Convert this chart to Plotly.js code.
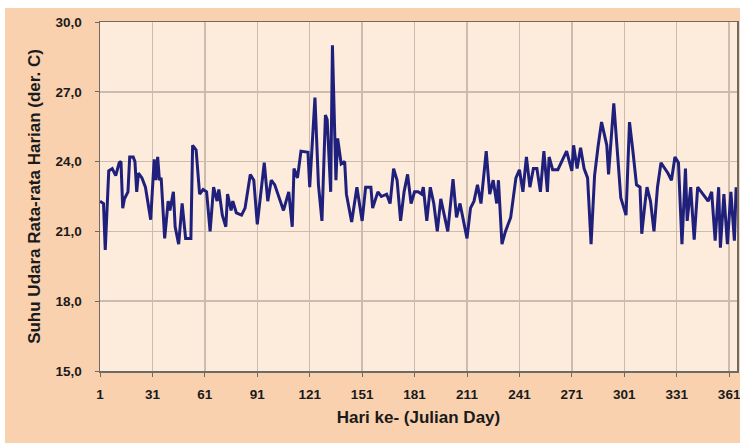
<!DOCTYPE html>
<html>
<head>
<meta charset="utf-8">
<script src="https://cdn.plot.ly/plotly-3.0.1.min.js"></script>
<style>
  html, body { margin: 0; padding: 0; background: #ffffff; }
  #chart { position: absolute; left: 5px; top: 8px; width: 735px; height: 435px; }
</style>
</head>
<body>
<div id="chart"></div>
<script>
// Julian day
var days = [1, 3, 4, 6, 8, 10, 12, 13, 14, 15, 17, 18, 20, 21, 22, 23, 25, 27, 30, 32,
  33, 34, 35, 36, 38, 40, 41, 43, 44, 46, 48, 50, 53, 54, 56, 58, 60, 62, 64, 66,
  68, 69, 71, 73, 74, 76, 77, 79, 82, 84, 87, 89, 91, 93, 95, 97, 99, 101, 104, 106,
  109, 111, 112, 114, 116, 120, 121, 124, 126, 128, 130, 131, 133, 134, 136, 137, 139, 141, 142, 145,
  148, 151, 153, 156, 157, 160, 162, 165, 167, 169, 171, 173, 175, 177, 179, 181, 183, 185, 186, 188,
  190, 192, 194, 196, 198, 200, 203, 205, 207, 209, 211, 213, 215, 217, 219, 222, 224, 226, 228, 229,
  231, 233, 236, 239, 241, 243, 245, 247, 249, 251, 253, 255, 257, 258, 260, 263, 268, 271, 272, 274,
  276, 278, 280, 282, 284, 286, 288, 291, 292, 295, 297, 299, 302, 304, 306, 308, 310, 311, 313, 314,
  316, 318, 320, 322, 326, 328, 330, 332, 334, 336, 337, 339, 341, 343, 346, 349, 351, 353, 355, 356,
  358, 360, 362, 364, 365];

// Daily mean air temperature (deg C)
var temps = [22.3, 22.2, 20.2, 23.6, 23.7, 23.4, 23.95, 24.0, 22.0, 22.4, 22.7, 24.2, 24.2, 24.0, 22.7, 23.5, 23.3, 22.9, 21.5, 24.1,
  23.2, 24.2, 23.2, 23.3, 20.7, 22.3, 21.9, 22.7, 21.2, 20.45, 22.2, 20.7, 20.7, 24.7, 24.5, 22.6, 22.8, 22.7, 21.0, 22.9,
  22.3, 22.8, 21.7, 21.2, 22.6, 21.9, 22.3, 21.8, 21.7, 22.0, 23.45, 23.2, 21.3, 22.6, 23.95, 22.3, 23.2, 23.0, 22.3, 21.9,
  22.7, 21.2, 23.7, 23.3, 24.45, 24.4, 22.9, 26.75, 23.0, 21.45, 26.0, 25.8, 22.7, 29.0, 23.2, 25.0, 23.9, 24.0, 22.6, 21.4,
  22.9, 21.45, 22.9, 22.9, 22.0, 22.7, 22.5, 22.6, 22.2, 23.7, 23.2, 21.45, 22.7, 23.45, 22.2, 22.7, 22.7, 22.6, 22.9, 21.45,
  22.9, 22.2, 21.0, 22.4, 21.7, 21.0, 23.25, 21.6, 22.2, 21.4, 20.7, 22.0, 22.3, 23.0, 22.2, 24.45, 22.6, 23.2, 22.2, 23.2,
  20.45, 21.0, 21.6, 23.3, 23.65, 22.7, 24.2, 22.9, 23.7, 23.7, 22.7, 24.45, 22.7, 24.2, 23.65, 23.65, 24.45, 23.6, 24.7, 23.7,
  24.6, 23.7, 23.3, 20.45, 23.4, 24.65, 25.7, 24.7, 23.45, 26.5, 24.6, 22.45, 21.7, 25.7, 24.4, 23.0, 22.9, 20.9, 22.3, 22.9,
  22.3, 21.0, 22.9, 23.95, 23.5, 23.2, 24.2, 23.95, 20.45, 23.7, 21.45, 22.9, 20.65, 22.9, 22.6, 22.3, 22.7, 20.6, 22.9, 20.3,
  22.6, 20.45, 22.7, 20.6, 22.9];

var xTickVals = [1, 31, 61, 91, 121, 151, 181, 211, 241, 271, 301, 331, 361];
var yTickVals = [15, 18, 21, 24, 27, 30];

var trace = {
  x: days,
  y: temps,
  type: 'scatter',
  mode: 'lines',
  line: { color: '#1f1f7c', width: 3 },
  hoverinfo: 'x+y'
};

var fontFam = '"Liberation Sans", Arial, sans-serif';

var layout = {
  width: 735,
  height: 435,
  margin: { l: 95, r: 3, t: 14, b: 72 },
  paper_bgcolor: '#f9d1af',
  plot_bgcolor: '#fdebdc',
  separators: ',.',
  showlegend: false,
  font: { family: fontFam, color: '#1a1a1a' },
  xaxis: {
    range: [1, 365.5],
    tickvals: xTickVals,
    ticktext: xTickVals.map(String),
    ticklabeloverflow: 'allow',
    showgrid: true,
    gridcolor: '#cdbcae',
    gridwidth: 1.5,
    zeroline: false,
    showline: true,
    linecolor: '#6e6a66',
    linewidth: 1.5,
    mirror: true,
    ticks: 'outside',
    ticklen: 4,
    tickcolor: '#6e6a66',
    ticklabelstandoff: 6,
    tickfont: { family: fontFam, size: 13.5, color: '#1a1a1a', weight: 'bold' },
    title: { text: '<b>Hari ke- (Julian Day)</b>', font: { family: fontFam, size: 17, color: '#1a1a1a' }, standoff: 10 }
  },
  yaxis: {
    range: [15, 30],
    tickvals: yTickVals,
    tickformat: '.1f',
    showgrid: true,
    gridcolor: '#cdbcae',
    gridwidth: 1.5,
    zeroline: false,
    showline: true,
    linecolor: '#6e6a66',
    linewidth: 1.5,
    mirror: true,
    ticks: 'outside',
    ticklen: 4,
    tickcolor: '#6e6a66',
    ticklabelstandoff: 10,
    tickfont: { family: fontFam, size: 13.5, color: '#1a1a1a', weight: 'bold' },
    title: { text: '<b>Suhu Udara Rata-rata Harian (der. C)</b>', font: { family: fontFam, size: 17, color: '#1a1a1a' }, standoff: 10 }
  }
};

Plotly.newPlot('chart', [trace], layout, { displayModeBar: false, staticPlot: true });
</script>
</body>
</html>
